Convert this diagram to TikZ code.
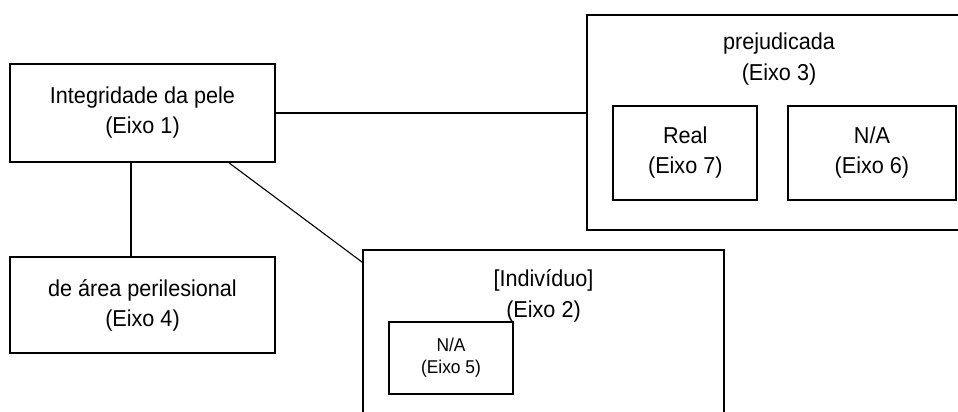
\documentclass[tikz,border=0pt]{standalone}
\usepackage{fontspec}
\setmainfont[FakeStretch=0.94]{Liberation Sans}
\usepackage{tikz}

\begin{document}
\begin{tikzpicture}[x=1pt,y=1pt,
                caixa/.style={draw,line width=1.7pt,align=center,inner sep=0pt,
                    font=\fontsize{23}{30}\selectfont},
                caixinha/.style={caixa,font=\fontsize{18.5}{22}\selectfont},
                rotulo/.style={align=center,inner sep=0pt,anchor=north,
                    font=\fontsize{23}{31}\selectfont},
                liga/.style={line width=1.1pt}]
                \clip (0,0) rectangle (958,412);
                \node[caixa,minimum width=265pt,minimum height=98pt] (eixo1) at (142.5,299) {Integridade da pele\\(Eixo 1)};
                \node[caixa,minimum width=265pt,minimum height=96pt] (eixo4) at (142.5,107) {de área perilesional\\(Eixo 4)};
                \node[caixa,minimum width=384pt,minimum height=215pt] (eixo3) at (779,289.5) {};
                \node[rotulo] (t3) at ([yshift=-18pt]eixo3.north) {prejudicada\\(Eixo 3)};
                \node[caixa,minimum width=144pt,minimum height=94pt] (eixo7) at (685.3,259) {Real\\(Eixo 7)};
                \node[caixa,minimum width=168pt,minimum height=94pt] (eixo6) at (871.9,259) {N/A\\(Eixo 6)};
                \node[caixa,minimum width=361pt,minimum height=180pt] (eixo2) at (543.5,72) {};
                \node[rotulo] (t2) at ([yshift=-20.5pt]eixo2.north) {[Indivíduo]\\(Eixo 2)};
                \node[caixinha,minimum width=124pt,minimum height=72pt] (eixo5) at (451,54) {N/A\\(Eixo 5)};
                \draw[liga] (eixo1.east) -- (eixo1.east -| eixo3.west);
                \draw[liga] ([xshift=-11.5pt]eixo1.south) -- ([xshift=-11.5pt]eixo4.north);
                \draw[liga] ([xshift=86.5pt]eixo1.south) -- ([yshift=-13pt]eixo2.north west);
            \end{tikzpicture}
\end{document}
